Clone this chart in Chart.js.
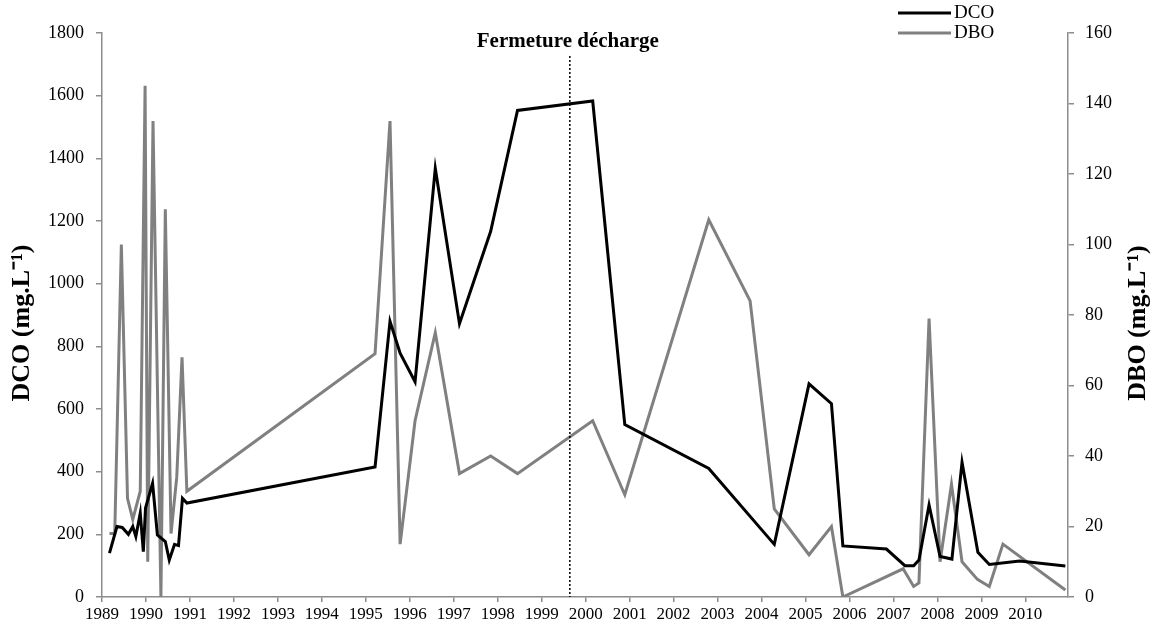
<!DOCTYPE html>
<html>
<head>
<meta charset="utf-8">
<script src="https://cdn.jsdelivr.net/npm/chart.js@4"></script>
<style>
  body { margin: 0; background: #fff; }
</style>
</head>
<body>
<canvas id="chart-1" width="1151" height="626"></canvas>
<script>
// DCO (left axis), mg/L
const dcoYears = [1989.17, 1989.34, 1989.46, 1989.60, 1989.70, 1989.77, 1989.87, 1989.94, 1989.99, 1990.15,
  1990.26, 1990.44, 1990.53, 1990.65, 1990.74, 1990.83, 1990.93, 1995.21, 1995.55, 1995.78,
  1996.12, 1996.58, 1997.13, 1997.84, 1998.45, 2000.16, 2000.89, 2002.80, 2004.29, 2005.08,
  2005.59, 2005.85, 2006.84, 2007.26, 2007.46, 2007.58, 2007.81, 2008.06, 2008.33, 2008.56,
  2008.92, 2009.18, 2009.87, 2010.91];
const dcoValues = [140, 225, 222, 200, 225, 193, 268, 145, 284, 363,
  198, 177, 118, 168, 164, 315, 300, 415, 880, 778,
  687, 1368, 872, 1167, 1553, 1583, 550, 410, 168, 680,
  617, 163, 153, 100, 100, 118, 294, 129, 121, 430,
  143, 104, 115, 99];

// DBO (right axis), mg/L
const dboYears = [1989.17, 1989.29, 1989.44, 1989.58, 1989.70, 1989.87, 1989.98, 1990.04, 1990.16, 1990.34,
  1990.44, 1990.57, 1990.70, 1990.82, 1990.93, 1995.21, 1995.55, 1995.78, 1996.12, 1996.58,
  1997.13, 1997.84, 1998.45, 2000.16, 2000.89, 2002.80, 2003.74, 2004.29, 2005.08, 2005.59,
  2005.85, 2007.22, 2007.46, 2007.58, 2007.81, 2008.06, 2008.32, 2008.56, 2008.91, 2009.18,
  2009.49, 2010.91];
const dboValues = [18, 18, 100, 28, 22, 30, 145, 10, 135, 0,
  110, 18, 34, 68, 30, 69, 135, 15, 50, 75,
  35, 40, 35, 50, 29, 107, 84, 25, 12, 20,
  0, 8, 3, 4, 79, 10, 32, 10, 5, 3,
  15, 2];

const closureYear = 1999.64;
const closureLabel = 'Fermeture décharge';
const leftTitle = 'DCO (mg.L\u207B\u00B9)';
const rightTitle = 'DBO (mg.L\u207B\u00B9)';

const serif = "'Liberation Serif', 'Times New Roman', serif";
const axisGrey = '#8c8c8c';

const toPoints = (xs, ys) => xs.map((x, i) => ({ x: x, y: ys[i] }));

function vText(c, text, x, y) {
  c.save();
  c.translate(x, y);
  c.rotate(-Math.PI / 2);
  c.fillText(text, 0, 0);
  c.restore();
}

// dotted closure line, its label, axis titles and the legend
const extras = {
  id: 'extras',
  afterDatasetsDraw(chart) {
    const c = chart.ctx;
    const x = chart.scales.x.getPixelForValue(closureYear);
    const bottom = chart.chartArea.bottom;
    c.save();
    c.strokeStyle = '#000';
    c.lineWidth = 1.5;
    c.setLineDash([2, 2]);
    c.beginPath();
    c.moveTo(x, 56);
    c.lineTo(x, bottom);
    c.stroke();
    c.setLineDash([]);

    c.fillStyle = '#000';
    c.font = 'bold 21px ' + serif;
    c.textAlign = 'center';
    c.textBaseline = 'middle';
    c.fillText(closureLabel, x - 2, 42);

    c.font = 'bold 26px ' + serif;
    vText(c, leftTitle, 22, 323);
    vText(c, rightTitle, 1138, 323);

    // legend
    c.font = '19px ' + serif;
    c.textAlign = 'left';
    c.lineWidth = 3;
    c.strokeStyle = '#000';
    c.beginPath(); c.moveTo(898, 13); c.lineTo(951, 13); c.stroke();
    c.fillText('DCO', 954, 13);
    c.strokeStyle = '#808080';
    c.beginPath(); c.moveTo(898, 33); c.lineTo(951, 33); c.stroke();
    c.fillText('DBO', 954, 33);
    c.restore();
  }
};

const ctx1 = document.getElementById('chart-1').getContext('2d');

const myChart = new Chart(ctx1, {
  type: 'scatter',
  data: {
    datasets: [{
      label: 'DCO',
      data: toPoints(dcoYears, dcoValues),
      yAxisID: 'y',
      showLine: true,
      borderColor: '#000',
      borderWidth: 3,
      pointRadius: 0,
      tension: 0
    }, {
      label: 'DBO',
      data: toPoints(dboYears, dboValues),
      yAxisID: 'y1',
      showLine: true,
      borderColor: '#808080',
      borderWidth: 3,
      pointRadius: 0,
      tension: 0
    }]
  },
  options: {
    responsive: false,
    animation: false,
    devicePixelRatio: 1,
    layout: { padding: { top: 33, left: 0, right: 0, bottom: 0 } },
    plugins: {
      legend: { display: false },
      tooltip: { enabled: false }
    },
    scales: {
      x: {
        type: 'linear',
        min: 1989,
        max: 2010.97,
        afterFit: (s) => { s.height = 29; },
        border: { color: axisGrey, width: 1.5 },
        grid: { drawOnChartArea: false, color: axisGrey, tickLength: 5, lineWidth: 1.5 },
        ticks: {
          stepSize: 1,
          includeBounds: false,
          autoSkip: false,
          maxRotation: 0,
          padding: 2,
          color: '#000',
          font: { family: serif, size: 17 },
          callback: (v) => String(v)
        }
      },
      y: {
        position: 'left',
        min: 0,
        max: 1800,
        afterFit: (s) => { s.width = 102; },
        border: { color: axisGrey, width: 1.5 },
        grid: { drawOnChartArea: false, color: axisGrey, tickLength: 6, lineWidth: 1.5 },
        ticks: { stepSize: 200, padding: 12, color: '#000', font: { family: serif, size: 18 },
          callback: (v) => String(v) }
      },
      y1: {
        position: 'right',
        min: 0,
        max: 160,
        afterFit: (s) => { s.width = 83; },
        border: { color: axisGrey, width: 1.5 },
        grid: { drawOnChartArea: false, color: axisGrey, tickLength: 6, lineWidth: 1.5 },
        ticks: { stepSize: 20, padding: 11, color: '#000', font: { family: serif, size: 18 },
          callback: (v) => String(v) }
      }
    }
  },
  plugins: [extras]
});
</script>
</body>
</html>
